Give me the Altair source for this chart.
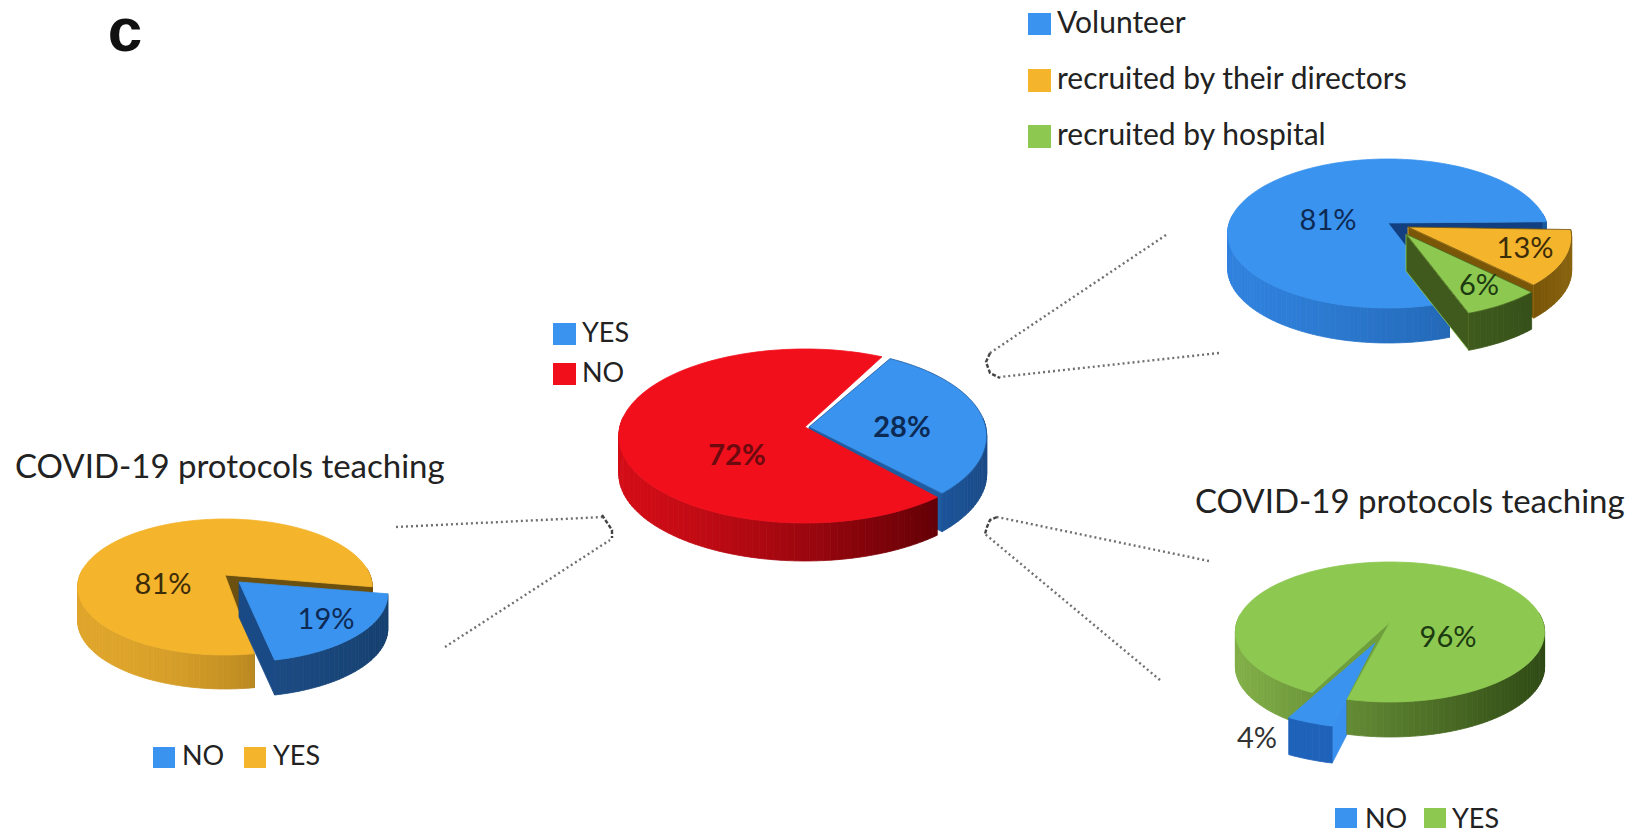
import math
import altair as alt
import pandas as pd

W, H = 1620, 820
FONT = "Lato"

# ---- chart values (percent) ----
center_values = [28, 72]
center_labels = ["YES", "NO"]
left_values = [19, 81]
left_labels = ["NO", "YES"]
top_values = [81, 13, 6]
top_labels = ["Volunteer", "recruited by their directors", "recruited by hospital"]
bottom_values = [96, 4]
bottom_labels = ["NO", "YES"]
panel_title = "COVID-19 protocols teaching"
panel_letter = "c"

BLUE, RED, YEL, GRN = "#3a93ee", "#f10f1c", "#f4b42c", "#8dc851"


def hex2rgb(c):
    return [int(c[i:i + 2], 16) for i in (1, 3, 5)]


def lerp(c1, c2, f):
    a, b = hex2rgb(c1), hex2rgb(c2)
    return "#%02x%02x%02x" % tuple(round(a[i] + (b[i] - a[i]) * f) for i in range(3))


features = []


def add_poly(pts, fill, stroke=None):
    pts = [list(p) for p in pts]
    pts.append(pts[0])
    features.append({
        "type": "Feature",
        "geometry": {"type": "Polygon", "coordinates": [pts]},
        "properties": {"fill": fill, "stroke": stroke or fill},
    })


def draw_slice(pie, a1, a2, s, parts="all"):
    """a1 > a2: angles in degrees, going clockwise, from the slice's share of the pie."""
    ax, ay = pie["apex"]
    ax += s.get("dx", 0)
    ay += s.get("dy", 0)
    R = pie["R"] * s.get("rs", 1)
    S, k, d = pie["S"] * s.get("rsy", 1), pie["k"], s.get("depth", pie["depth"])

    def pt(a):
        u, v = math.cos(math.radians(a)), math.sin(math.radians(a))
        den = 1 + k * v
        return (ax + R * u / den, ay - S * v / den)

    # walls on the two cut edges
    if parts in ("all", "walls"):
        for ang, col in ((a1, s.get("wall1")), (a2, s.get("wall2"))):
            if col:
                p = pt(ang)
                add_poly([(ax, ay), p, (p[0], p[1] + d), (ax, ay + d)], col, s.get("edge"))
    if parts == "walls":
        return
    # outer wall, in shaded strips
    n = max(2, int(round((a1 - a2) / 2)))
    angs = [a1 + (a2 - a1) * i / n for i in range(n + 1)]
    front = [i for i in range(n) if math.sin(math.radians((angs[i] + angs[i + 1]) / 2)) < 0.12]
    if front:
        xs = [pt(angs[i])[0] for i in front] + [pt(angs[front[-1] + 1])[0]]
        x0, x1 = min(xs), max(xs)
        for i in front:
            p, q = pt(angs[i]), pt(angs[i + 1])
            xm = (p[0] + q[0]) / 2
            f = min(1, max(0, (xm - x0) / max(1, x1 - x0)))
            col = lerp(s["side"][0], s["side"][1], f ** s.get("pw", 1.3))
            add_poly([p, q, (q[0], q[1] + d), (p[0], p[1] + d)], col)
    # top face
    arc = [pt(a) for a in angs]
    add_poly([(ax, ay)] + arc, s["top"], s.get("edge_top"))


def pie_geom(far, near):
    k = (near - far) / (near + far)
    return k, far * (1 + k)


# centre pie: the picture's perspective widens the front slice by a few degrees
k, S = pie_geom(78, 96)
p = {"apex": (807, 427), "R": 188, "S": S, "k": k, "depth": 38}
a0 = 60
a1 = a0 - center_values[0] * 3.6
blue_c = {"top": BLUE, "side": ("#1c5398", "#1a4a86"), "wall2": "#1e5ba0", "dx": 2, "rs": 0.94, "edge_top": "#1e5ba0"}
draw_slice(p, a0, a1 - 5, blue_c, "walls")
draw_slice(p, a1 - 8, a0 - 360 + 3, {"top": RED, "side": ("#d30d17", "#640006"), "dx": -2, "rs": 0.985})
draw_slice(p, a0, a1 - 5, blue_c, "body")

# left pie
k, S = pie_geom(56, 80)
p = {"apex": (225, 575), "R": 145, "S": S, "k": k, "depth": 34}
a0 = -10
a1 = a0 - left_values[0] * 3.6
draw_slice(p, a1 - 2, a0 - 360, {"top": YEL, "side": ("#dfa52b", "#6d4e0c"), "pw": 2.2, "wall1": "#6b5010", "wall2": "#6b5010"})
draw_slice(p, a0, a1, {"top": BLUE, "side": ("#1c4a82", "#15406f"), "wall2": "#1a4a85", "dx": 14, "dy": 7, "depth": 35, "rs": 1.01})

# top-right pie
k, S = pie_geom(64, 85)
p = {"apex": (1388, 223), "R": 162, "S": S, "k": k, "depth": 35}
a0 = -2
a1 = a0 - top_values[1] * 3.6
a2 = a1 - top_values[2] * 3.6
draw_slice(p, a2, a0 - 360 + 3, {"top": BLUE, "side": ("#3082de", "#1c5aa0"), "wall1": "#123f80", "wall2": "#123f80", "rs": 0.98})
draw_slice(p, a0, a1 + 3, {"top": YEL, "side": ("#7a5608", "#8a6410"), "wall2": "#7a5608", "dx": 20, "dy": 4, "depth": 33, "edge": YEL, "edge_top": "#6f5210"})
draw_slice(p, a1 + 3, a2, {"top": GRN, "side": ("#3f5a1c", "#35501a"), "wall2": "#3f5a1c", "dx": 18, "dy": 11, "depth": 37, "edge": "#8dc851", "edge_top": "#4a6a22"})

# bottom-right pie
k, S = pie_geom(60, 80)
p = {"apex": (1390, 622), "R": 153, "S": S, "k": k, "depth": 35}
a0 = -102
a1 = a0 - bottom_values[1] * 3.6
blue_b = {"top": BLUE, "side": ("#1f62ba", "#1f62ba"), "wall1": "#3a90ee", "dx": -15, "dy": 21, "depth": 37, "rs": 1.07, "rsy": 1.07}
draw_slice(p, a0 - 1, a1 - 1, blue_b, "walls")
draw_slice(p, a1, a0 - 360 - 2, {"top": GRN, "side": ("#82b048", "#2f4a14"), "wall1": "#6f9f3c", "wall2": "#4f7428", "pw": 1.0})
draw_slice(p, a0 - 1, a1 - 1, blue_b, "body")

# ---- text, swatches, leaders ----
small = 27
legend = 30
pct = 29
texts = [
    (125, 32, panel_letter, 62, "#111111", "bold", "Liberation Sans", "center"),
    (15, 468, panel_title, 33, "#222222", "normal", FONT, "left"),
    (1195, 503, panel_title, 33, "#222222", "normal", FONT, "left"),
    (163, 585, f"{left_values[1]}%", pct, "#3d2c08", "normal", FONT, "center"),
    (326, 620, f"{left_values[0]}%", pct, "#0d2a55", "normal", FONT, "center"),
    (737, 456, f"{center_values[1]}%", pct, "#6d0a10", "bold", FONT, "center"),
    (902, 428, f"{center_values[0]}%", pct, "#0d2a55", "bold", FONT, "center"),
    (1328, 221, f"{top_values[0]}%", pct, "#0d2a55", "normal", FONT, "center"),
    (1525, 249, f"{top_values[1]}%", pct, "#3d2c08", "normal", FONT, "center"),
    (1479, 286, f"{top_values[2]}%", pct, "#1c3a10", "normal", FONT, "center"),
    (1448, 638, f"{bottom_values[0]}%", pct, "#1c3a10", "normal", FONT, "center"),
    (1257, 739, f"{bottom_values[1]}%", pct, "#333333", "normal", FONT, "center"),
    (182, 757, left_labels[0], small, "#222222", "normal", FONT, "left"),
    (273, 757, left_labels[1], small, "#222222", "normal", FONT, "left"),
    (582, 334, center_labels[0], small, "#222222", "normal", FONT, "left"),
    (582, 374, center_labels[1], small, "#222222", "normal", FONT, "left"),
    (1057, 24, top_labels[0], legend, "#222222", "normal", FONT, "left"),
    (1057, 80, top_labels[1], legend, "#222222", "normal", FONT, "left"),
    (1057, 136, top_labels[2], legend, "#222222", "normal", FONT, "left"),
    (1365, 820, bottom_labels[0], small, "#222222", "normal", FONT, "left"),
    (1452, 820, bottom_labels[1], small, "#222222", "normal", FONT, "left"),
]
tdf = pd.DataFrame(texts, columns=["x", "y", "t", "size", "color", "weight", "font", "align"])

swatches = pd.DataFrame([
    (153, 175, 747, 768, BLUE), (244, 266, 747, 768, YEL),
    (553, 576, 323, 345, BLUE), (553, 576, 363, 385, RED),
    (1028, 1051, 13, 35, BLUE), (1028, 1051, 69, 92, YEL), (1028, 1051, 125, 148, GRN),
    (1335, 1357, 808, 832, BLUE), (1424, 1446, 808, 832, GRN),
], columns=["x", "x2", "y", "y2", "color"])

leaders = [
    [(396, 527), (604, 517)], [(445, 647), (610, 540)],
    [(1166, 235), (990, 353)], [(1219, 353), (1000, 377)],
    [(1209, 561), (997, 517)], [(1160, 680), (985, 534)],
]
hooks = [
    [(602, 515), (612, 530), (612, 538)],
    [(990, 353), (986, 362), (990, 373), (1000, 378)],
    [(997, 517), (990, 520), (987, 527), (985, 534)],
]


def path_df(paths):
    return pd.DataFrame([
        {"g": g, "i": i, "x": x, "y": y}
        for g, path in enumerate(paths) for i, (x, y) in enumerate(path)
    ])


sx = alt.Scale(domain=[8, W + 8], range=[0, W])
sy = alt.Scale(domain=[8, H + 8], range=[0, H])
X = alt.X("x:Q", scale=sx, axis=None)
Y = alt.Y("y:Q", scale=sy, axis=None)

layers = [
    alt.Chart(alt.Data(values=features)).mark_geoshape(strokeWidth=0.8).encode(
        fill=alt.Fill("properties.fill:N", scale=None),
        stroke=alt.Stroke("properties.stroke:N", scale=None),
    ).project(type="identity", scale=1, translate=[-8, -8]),
    alt.Chart(swatches).mark_rect().encode(
        x=X, x2="x2:Q", y=Y, y2="y2:Q", color=alt.Color("color:N", scale=None)
    ),
    alt.Chart(path_df(leaders)).mark_line(color="#707070", strokeWidth=2.4, strokeDash=[2, 3]).encode(
        x=X, y=Y, detail="g:N", order="i:Q"
    ),
    alt.Chart(path_df(hooks)).mark_line(color="#444444", strokeWidth=2.4, strokeDash=[4, 2]).encode(
        x=X, y=Y, detail="g:N", order="i:Q"
    ),
]

for (weight, font, align), sub in tdf.groupby(["weight", "font", "align"]):
    layers.append(
        alt.Chart(sub[["x", "y", "t", "size", "color"]]).mark_text(
            font=font, fontWeight=weight, align=align, baseline="middle"
        ).encode(
            x=X, y=Y, text="t:N",
            size=alt.Size("size:Q", scale=None),
            color=alt.Color("color:N", scale=None),
        )
    )

chart = alt.layer(*layers).properties(
    width=W, height=H, padding=0, background="white",
    autosize=alt.AutoSizeParams(type="none"),
).configure_view(stroke=None)

chart.save("out.html", embed_options={"renderer": "svg", "actions": False})
